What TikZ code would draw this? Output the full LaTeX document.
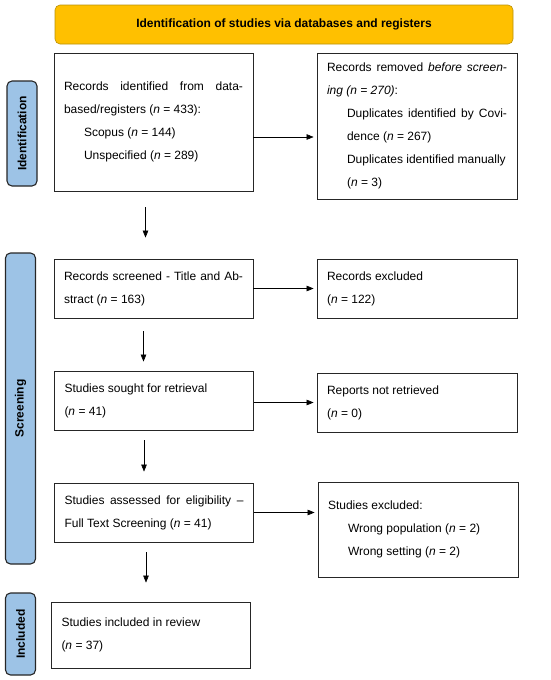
\documentclass[tikz,border=0pt]{standalone}
\usepackage{fontspec}
\setmainfont{Liberation Sans}
\usepackage{xcolor}
\usepackage{tikz}
\usetikzlibrary{arrows.meta,shadows}
\definecolor{headgold}{HTML}{FFC000}
\definecolor{headrim}{HTML}{B8900A}
\definecolor{sideblue}{HTML}{9DC3E6}
\newcommand{\nn}[1]{(\textit{n} = #1)}
\newcommand{\ind}{\hspace*{20pt}}

\begin{document}
\begin{tikzpicture}[x=1pt,y=-1pt,
  box/.style={draw=black!85,line width=0.8pt,fill=white,inner xsep=10pt,inner ysep=4pt,
    text width=179pt,align=justify,minimum height=59pt,font=\fontsize{12}{23}\selectfont,
    drop shadow={shadow xshift=0.7pt,shadow yshift=-0.7pt,fill=black!80,opacity=1}},
  rbox/.style={box,text width=180pt},
  side/.style={draw=black!85,line width=1.1pt,fill=sideblue,rounded corners=5pt,rotate=90,
    minimum height=30pt,inner sep=0pt,font=\bfseries\fontsize{12}{14}\selectfont},
  arr/.style={-{Triangle[length=7pt,width=5.5pt]},line width=0.6pt}]
\useasboundingbox (0,0) rectangle (550,680);
% ---- HEADER ----
\node[draw=headrim,line width=0.6pt,fill=headgold,rounded corners=5pt,minimum width=458pt,
  minimum height=39pt,font=\bfseries\fontsize{12}{14}\selectfont] (head) at (284,24.5)
  {Identification of studies via databases and registers};
% ---- SIDE LABELS ----
\node[side,minimum width=105pt] (idlab) at (22,133.5) {Identification};
\node[side,minimum width=311pt] (scrlab) at (20.5,408.5) {Screening};
\node[side,minimum width=82pt] (inclab) at (20.5,634) {Included};
% ---- LEFT COLUMN ----
\node[box,minimum height=138pt] (rec) at (153.5,122)
  {Records identified from data-\linebreak based/registers \nn{433}:\\
   \ind Scopus \nn{144}\\
   \ind Unspecified \nn{289}};
\node[box] (screened) at (153.5,288.5)
  {Records screened - Title and Ab-\linebreak stract \nn{163}};
\node[box] (sought) at (154,400.5)
  {Studies sought for retrieval\\ \nn{41}};
\node[box] (assessed) at (154,512.5)
  {Studies assessed for eligibility --\linebreak Full Text Screening \nn{41}};
\node[box,minimum height=66pt] (included) at (151,635)
  {Studies included in review\\ \nn{37}};
% ---- RIGHT COLUMN ----
\node[rbox,minimum height=146pt] (removed) at (417,126)
  {Records removed \textit{before screen-}\linebreak \textit{ing (n = 270)}:\\
   \ind Duplicates identified by Covi-\linebreak \ind dence \nn{267}\\
   \mbox{\ind Duplicates identified manually}\\
   \ind \nn{3}};
\node[rbox] (excluded) at (417,288.5)
  {Records excluded\\ \nn{122}};
\node[rbox] (notret) at (417,402.5)
  {Reports not retrieved\\ \nn{0}};
\node[rbox,minimum height=95pt] (stexcl) at (418,529.5)
  {Studies excluded:\\
   \ind Wrong population \nn{2}\\
   \ind Wrong setting \nn{2}};
% ---- ARROWS ----
\draw[arr,shorten >=3pt] ([yshift=-15pt]rec.east) -- ([yshift=-11pt]removed.west);
\draw[arr,shorten >=3pt] (screened.east) -- (excluded.west);
\draw[arr,shorten >=3pt] (sought.east |- notret.west) -- (notret.west);
\draw[arr,shorten >=3pt] (assessed.east) -- (assessed.east -| stexcl.west);
\draw[arr,shorten <=16pt,shorten >=21pt] ([xshift=-8pt]rec.south) -- ([xshift=-8pt]screened.north);
\draw[arr,shorten <=13pt,shorten >=9pt] ([xshift=-10pt]screened.south) -- ([xshift=-10.5pt]sought.north);
\draw[arr,shorten <=10pt,shorten >=11pt] ([xshift=-10pt]sought.south) -- ([xshift=-10pt]assessed.north);
\draw[arr,shorten <=10pt,shorten >=19pt] ([xshift=-8pt]assessed.south) -- ([xshift=-5pt]included.north);
\end{tikzpicture}
\end{document}
